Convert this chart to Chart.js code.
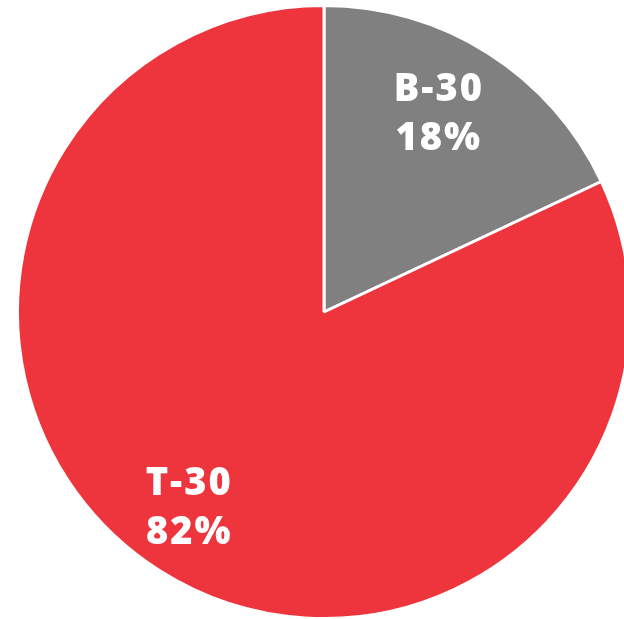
<!DOCTYPE html>
<html>
<head>
<meta charset="utf-8">
<script src="https://cdn.jsdelivr.net/npm/chart.js@4"></script>
<style>
html,body{margin:0;padding:0;background:#fff;overflow:hidden;width:624px;height:619px;}
#wrap{position:absolute;left:0;top:0;width:648px;height:624px;}
</style>
</head>
<body>
<div id="wrap"><canvas id="c"></canvas></div>
<script>
const categories = ["B-30", "T-30"];
const shares = [18, 82];
const sliceColors = ["#808080", "#EE353E"];

const labelPlugin = {
  id: 'sliceLabels',
  afterDatasetsDraw(chart) {
    const ctx = chart.ctx;
    const meta = chart.getDatasetMeta(0);
    const total = shares.reduce((a, b) => a + b, 0);
    ctx.save();
    ctx.fillStyle = '#ffffff';
    ctx.font = '800 38px "Open Sans"';
    if ('letterSpacing' in ctx) ctx.letterSpacing = '2px';
    ctx.textAlign = 'center';
    ctx.textBaseline = 'middle';
    meta.data.forEach((arc, i) => {
      const mid = (arc.startAngle + arc.endAngle) / 2;
      const r = arc.outerRadius * 0.76;
      const x = arc.x + Math.cos(mid) * r - 10;
      const y = arc.y + Math.sin(mid) * r - 1;
      ctx.fillText(categories[i], x, y - 24);
      ctx.fillText(Math.round(shares[i] / total * 100) + '%', x, y + 25);
    });
    ctx.restore();
  }
};

new Chart(document.getElementById('c'), {
  type: 'pie',
  data: {
    labels: categories,
    datasets: [{
      data: shares,
      backgroundColor: sliceColors,
      borderColor: '#ffffff',
      borderWidth: 3
    }]
  },
  options: {
    responsive: true,
    maintainAspectRatio: false,
    animation: false,
    layout: { padding: { top: 4, bottom: 4, left: 0, right: 0 } },
    plugins: { legend: { display: false }, tooltip: { enabled: false } }
  },
  plugins: [labelPlugin]
});
</script>
</body>
</html>
